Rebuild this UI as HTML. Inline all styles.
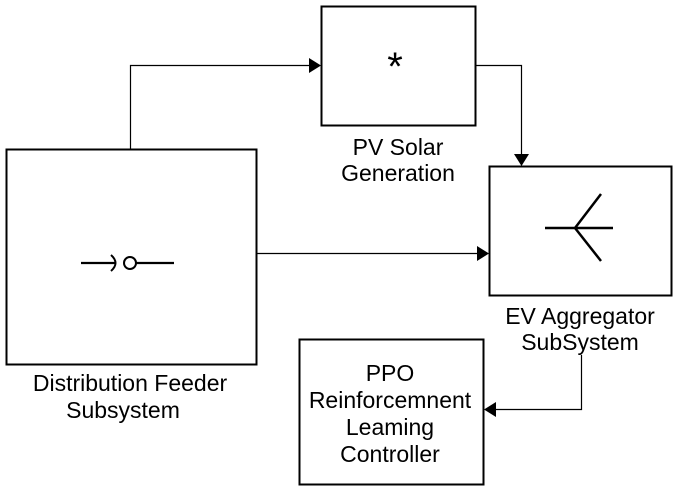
<!DOCTYPE html>
<html><head><style>
html,body{margin:0;padding:0;background:#fff;}
svg{display:block;}
text{font-family:"Liberation Sans",Arial,sans-serif;font-size:23px;fill:#000;text-anchor:middle;}
</style></head><body>
<svg width="699" height="502" viewBox="0 0 699 502" xmlns="http://www.w3.org/2000/svg">
<g fill="none" stroke="#000">
<rect x="6.5" y="149.5" width="250" height="215" stroke-width="2"/>
<rect x="321.5" y="6.5" width="154" height="119" stroke-width="2"/>
<rect x="489.5" y="166.5" width="182" height="129" stroke-width="2"/>
<rect x="299.5" y="339.5" width="184" height="145" stroke-width="2"/>
<polyline points="130.5,149 130.5,65.5 310,65.5" stroke-width="1.2"/>
<polyline points="476,65.5 521.5,65.5 521.5,156" stroke-width="1.2"/>
<line x1="257" y1="253.5" x2="479" y2="253.5" stroke-width="1.2"/>
<polyline points="581.5,355 581.5,409.5 494,409.5" stroke-width="1.2"/>
<line x1="81" y1="263" x2="116" y2="263" stroke-width="2.2"/>
<path d="M111,255 Q120,263 111,271" stroke-width="2"/>
<circle cx="130" cy="263" r="6" stroke-width="2"/>
<line x1="136" y1="263" x2="174" y2="263" stroke-width="2.2"/>
<line x1="545" y1="228" x2="613" y2="228" stroke-width="2.5"/>
<line x1="575" y1="228" x2="601" y2="194" stroke-width="2.5"/>
<line x1="575" y1="228" x2="601" y2="261" stroke-width="2.5"/>
</g>
<g fill="#000">
<polygon points="321,65.5 309,58 309,73"/>
<polygon points="521.5,166 514,154 529,154"/>
<polygon points="489,253.5 477,246 477,261"/>
<polygon points="484,409.5 496,402 496,417"/>
</g>
<text x="395" y="80" style="font-size:40px">*</text>
<text x="398" y="155">PV Solar</text>
<text x="398" y="181">Generation</text>
<text x="580" y="324">EV Aggregator</text>
<text x="580" y="350">SubSystem</text>
<text x="130" y="391">Distribution Feeder</text>
<text x="123" y="418">Subsystem</text>
<text x="390" y="381">PPO</text>
<text x="390" y="408">Reinforcemnent</text>
<text x="390" y="435">Leaming</text>
<text x="390" y="462">Controller</text>
</svg>
</body></html>
